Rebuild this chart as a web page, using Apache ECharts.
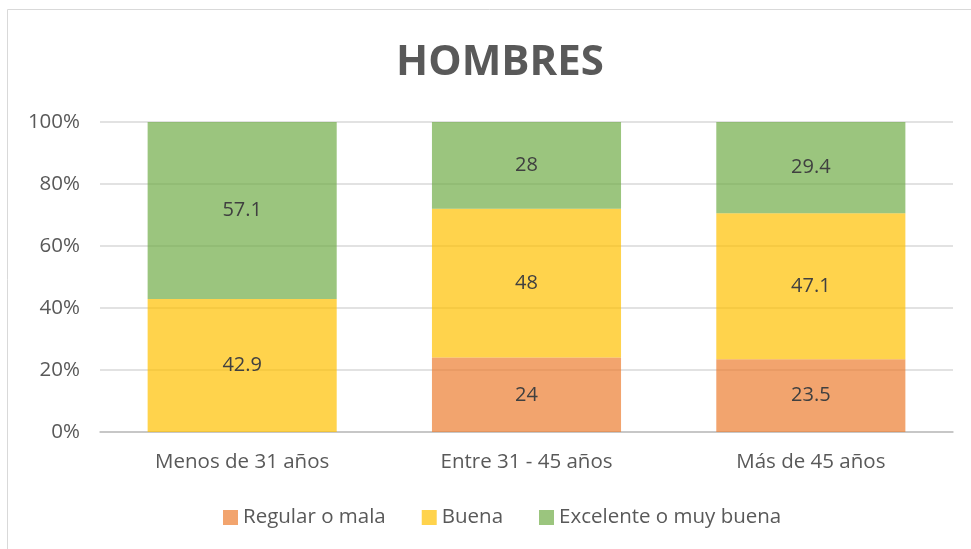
<!DOCTYPE html>
<html><head><meta charset="utf-8">
<script src="https://cdn.jsdelivr.net/npm/echarts@6/dist/echarts.min.js"></script>
<style>html,body{margin:0;padding:0;background:#fff}#c{width:971px;height:549px}</style>
</head><body><div id="c"></div>
<script>
const categories = ['Menos de 31 años', 'Entre 31 - 45 años', 'Más de 45 años'];
const regular = [null, 24, 23.5];
const buena = [42.9, 48, 47.1];
const excelente = [57.1, 28, 29.4];
const yTicks = [0, 20, 40, 60, 80, 100];

const font = '"Open Sans", "Noto Sans", sans-serif';
const chart = echarts.init(document.getElementById('c'));
function s(name, data, color) {
  return {
    name, type: 'bar', stack: 'a', data, barCategoryGap: '33.5%',
    itemStyle: { color: color, opacity: 0.7 },
    emphasis: { disabled: true },
    label: { show: true, position: 'inside', color: '#404040', opacity: 1, fontSize: 20, fontFamily: font,
      formatter: p => (p.value == null ? '' : String(p.value)) }
  };
}
chart.setOption({
  animation: false,
  graphic: [{ type: 'rect', shape: { x: 7.5, y: 9.5, width: 980, height: 560 },
    style: { fill: 'none', stroke: '#d9d9d9', lineWidth: 1 } }],
  title: { text: 'HOMBRES', left: 495, top: 37, textAlign: 'center',
    textStyle: { fontSize: 42, fontWeight: 'bold', color: '#595959', fontFamily: font } },
  legend: { bottom: 16, left: 218, itemWidth: 15, itemHeight: 15, itemGap: 36,
    icon: 'rect', textStyle: { fontSize: 20.5, color: '#595959', fontFamily: font },
    data: ['Regular o mala', 'Buena', 'Excelente o muy buena'] },
  grid: { left: 100, right: 18, top: 122, bottom: 117 },
  xAxis: { type: 'category', data: categories,
    axisLine: { lineStyle: { color: '#bfbfbf', width: 1.5 } }, axisTick: { show: false },
    axisLabel: { fontSize: 20.5, color: '#595959', fontFamily: font, margin: 20 } },
  yAxis: { type: 'value', min: yTicks[0], max: yTicks[yTicks.length - 1], interval: 20,
    axisLine: { show: false }, axisTick: { show: false },
    splitLine: { lineStyle: { color: '#d9d9d9', width: 1.5 } },
    axisLabel: { fontSize: 20.5, color: '#595959', fontFamily: font, margin: 20,
      formatter: v => v + '%' } },
  series: [
    s('Regular o mala', regular, '#ED7D31'),
    s('Buena', buena, '#FFC000'),
    s('Excelente o muy buena', excelente, '#70AD47')
  ]
});
</script></body></html>
